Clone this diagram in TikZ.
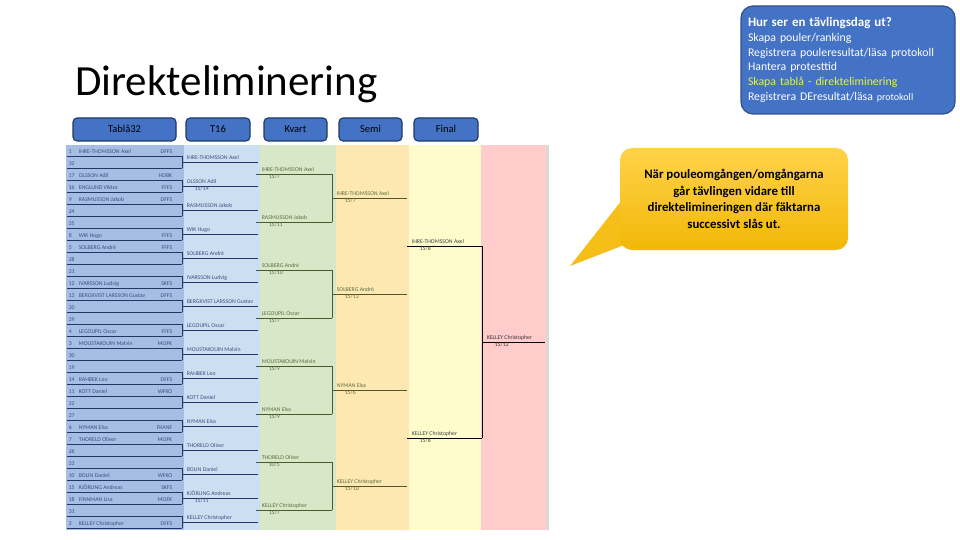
\documentclass[tikz,border=0pt]{standalone}
\usepackage{fontspec}
\setmainfont{Carlito}
\usetikzlibrary{positioning,calc}
\definecolor{slideblue}{HTML}{4472C4}
\definecolor{slideedge}{HTML}{2F528F}
\definecolor{navyline}{HTML}{1F3864}
\definecolor{navytxt}{HTML}{3C4F80}
\definecolor{oliveline}{HTML}{4A5A2C}
\definecolor{olivetxt}{HTML}{5E6A45}
\definecolor{colTab}{HTML}{A7BDE4}
\definecolor{colSixteen}{HTML}{CCDFF2}
\definecolor{colKvart}{HTML}{D7E7C8}
\definecolor{colSemi}{HTML}{FDE8B2}
\definecolor{colFinal}{HTML}{FFFCCB}
\definecolor{colWin}{HTML}{FFCBCB}
\definecolor{noteTop}{HTML}{FFD24A}
\definecolor{noteBot}{HTML}{F2B807}
\definecolor{taskyellow}{HTML}{E8F24A}

\begin{document}
\begin{tikzpicture}[x=1pt,y=-1pt,
  hdr/.style={draw=navyline, line width=1.1pt, fill=slideblue, rounded corners=4pt,
    minimum height=23pt, inner sep=0pt, text height=7.5pt, text depth=2pt,
    font=\fontsize{10.5}{12}\selectfont},
  tline/.style={navyline, line width=0.7pt},
  kline/.style={oliveline, line width=0.7pt},
  fline/.style={black, line width=0.8pt},
  ename/.style={anchor=south west, inner sep=0.6pt, text depth=1.3pt, font=\fontsize{5.8}{6}\selectfont},
  escore/.style={anchor=north west, inner sep=0.6pt, font=\fontsize{5.8}{6}\selectfont},
  note/.style={rounded corners=12pt, top color=noteTop, bottom color=noteBot,
    minimum width=228pt, minimum height=102pt, align=center,
    font=\bfseries\fontsize{12.8}{16.6}\selectfont}]
\useasboundingbox (0,0) rectangle (960,540);

% title and task list
\node[anchor=base west, inner sep=0pt, font=\fontsize{43}{48}\selectfont] (title) at (75,96) {Direkteliminering};
\node[draw=slideedge, line width=1.2pt, fill=slideblue, rounded corners=12pt,
  minimum width=214pt, minimum height=108pt, text width=200pt, align=left,
  text=white, font=\fontsize{11.8}{14.7}\selectfont] (tasks) at (848,60)
  {{\bfseries\fontsize{13}{14.7}\selectfont Hur ser en tävlingsdag ut?}\\
   Skapa pouler/ranking\\
   Registrera pouleresultat/läsa protokoll\\
   Hantera protesttid\\
   \textcolor{taskyellow}{Skapa tablå - direkteliminering}\\
   Registrera DEresultat/läsa {\fontsize{10}{10}\selectfont protokoll}};

% round headers
\node[hdr, minimum width=103pt] (htab) at (124.5,129.5) {Tablå32};
\node[hdr, minimum width=64pt, right=8.9pt of htab] (h16) {T16};
\node[hdr, minimum width=63pt, right=12.9pt of h16] (hkvart) {Kvart};
\node[hdr, minimum width=63pt, right=10.9pt of hkvart] (hsemi) {Semi};
\node[hdr, minimum width=64pt, right=10.9pt of hsemi] (hfinal) {Final};

% column backgrounds
\fill[colTab] (66,145) rectangle (184,530);
\fill[colSixteen] (184,145) rectangle (260,530);
\fill[colKvart] (260,145) rectangle (336,530);
\fill[colSemi] (336,145) rectangle (409,530);
\fill[colFinal] (409,145) rectangle (481,530);
\fill[colWin] (481,145) rectangle (546,530);
\fill[black!15] (546,145) rectangle (549,530);

% tablå 32
\foreach \s/\n/\c [count=\i] in {1/IHRE-THOMSSON Axel/DFFS, 32//, 17/OLSSON Adil/HDBK,
  16/ENGLUND Viktor/FFFS, 9/RASMUSSON Jakob/DFFS, 24//, 25//, 8/WIK Hugo/FFFS,
  5/SOLBERG André/FFFS, 28//, 21//, 12/IVARSSON Ludvig/SKFS, 13/BERGKVIST LARSSON Gustav/DFFS,
  20//, 29//, 4/LEGOUPIL Oscar/FFFS, 3/MOUSTAKOUIN Malvin/MOFK, 30//, 19//, 14/RAHBEK Leo/DFFS,
  11/KOTT Daniel/WFKO, 22//, 27//, 6/NYMAN Elsa/FKANF, 7/THORELD Oliver/MOFK, 26//, 23//,
  10/BOLIN Daniel/WFKO, 15/KJÖRLING Andreas/SKFS, 18/FINNMAN Lisa/MOFK, 31//, 2/KELLEY Christopher/DFFS}
{
  \coordinate (r\i) at (67,144+12*\i);
  \draw[tline] (r\i) -- ++(115,0);
  \node[ename, text=navytxt] (n\i) at ($(r\i)+(1,0)$) {\makebox[10pt][l]{\s}\n};
  \node[ename, anchor=south east, text=navytxt] (c\i) at ($(r\i)+(106,0)$) {\c};
}
\foreach \k [evaluate=\k as \a using int(2*\k-1), evaluate=\k as \b using int(2*\k)] in {1,...,16}
  \draw[tline] ($(r\a)+(115,0)$) -- ($(r\b)+(115,0)$);

% T16
\foreach \n/\sc [count=\k] in {IHRE-THOMSSON Axel/, OLSSON Adil/{15/14}, RASMUSSON Jakob/,
  WIK Hugo/, SOLBERG André/, IVARSSON Ludvig/, BERGKVIST LARSSON Gustav/, LEGOUPIL Oscar/,
  MOUSTAKOUIN Malvin/, RAHBEK Leo/, KOTT Daniel/, NYMAN Elsa/, THORELD Oliver/, BOLIN Daniel/,
  KJÖRLING Andreas/{15/11}, KELLEY Christopher/}
{
  \coordinate (s\k) at (182,138+24*\k);
  \draw[tline] (s\k) -- ++(76,0);
  \node[ename, text=navytxt] at ($(s\k)+(4,0)$) {\n};
  \node[escore, text=navytxt] at ($(s\k)+(12,0)$) {\sc};
}

% kvart
\foreach \n/\sc [count=\m] in {IHRE-THOMSSON Axel/{15/7}, RASMUSSON Jakob/{15/11},
  SOLBERG André/{15/10}, LEGOUPIL Oscar/{15/7}, MOUSTAKOUIN Malvin/{15/9},
  NYMAN Elsa/{15/9}, THORELD Oliver/{10/5}, KELLEY Christopher/{15/7}}
{
  \coordinate (q\m) at (256,126+48*\m);
  \draw[kline] (q\m) -- ++(76,0);
  \node[ename, text=olivetxt] at ($(q\m)+(5,0)$) {\n};
  \node[escore, text=olivetxt] at ($(q\m)+(12,0)$) {\sc};
}
\foreach \k [evaluate=\k as \a using int(2*\k-1), evaluate=\k as \b using int(2*\k)] in {1,...,4}
  \draw[kline] ($(q\a)+(76,0)$) -- ($(q\b)+(76,0)$);

% semi
\foreach \n/\sc [count=\m] in {IHRE-THOMSSON Axel/{15/7}, SOLBERG André/{15/13},
  NYMAN Elsa/{15/6}, KELLEY Christopher/{15/10}}
{
  \coordinate (h\m) at (332,102+96*\m);
  \draw[kline] (h\m) -- ++(75,0);
  \node[ename, text=olivetxt] at ($(h\m)+(4,0)$) {\n};
  \node[escore, text=olivetxt] at ($(h\m)+(12,0)$) {\sc};
}

% final and winner
\foreach \n/\sc [count=\m] in {IHRE-THOMSSON Axel/{15/8}, KELLEY Christopher/{15/8}}
{
  \coordinate (f\m) at (407,54+192*\m);
  \draw[fline] (f\m) -- ++(75,0);
  \node[ename, text=black!75] at ($(f\m)+(4,0)$) {\n};
  \node[escore, text=black!75] at ($(f\m)+(12,0)$) {\sc};
}
\draw[fline] ($(f1)+(75,0)$) -- ($(f2)+(75,0)$);
\coordinate (win) at (482,342);
\draw[fline] (win) -- ++(63,0);
\node[ename, text=black!80] at ($(win)+(4,0)$) {KELLEY Christopher};
\node[escore, text=black!80] at ($(win)+(12,0)$) {15/12};

% callout
\coordinate (tip) at (570,266);
\fill[noteBot!75!noteTop] (626,195) -- (tip) -- (632,242) -- cycle;
\node[note] (note) at (734,199) {När pouleomgången/omgångarna\\går tävlingen vidare till\\direktelimineringen där fäktarna\\successivt slås ut.};
\end{tikzpicture}
\end{document}
